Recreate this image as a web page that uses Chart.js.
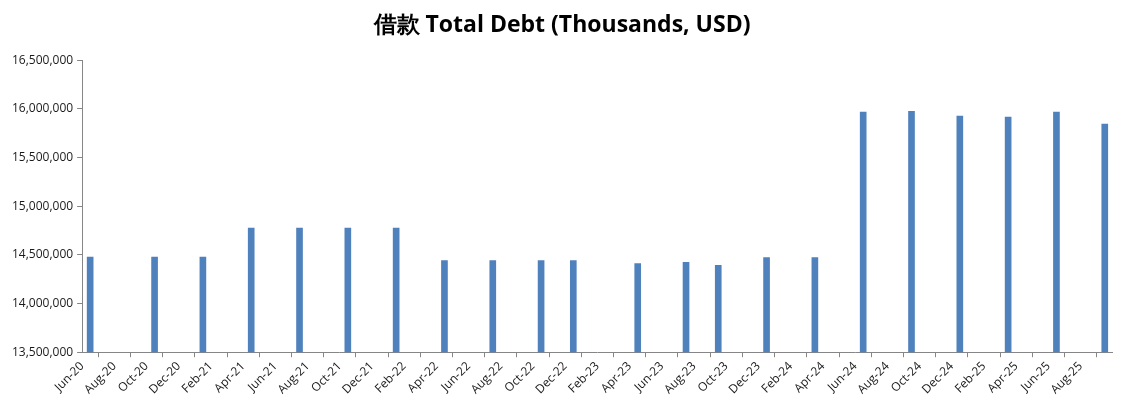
<!DOCTYPE html>
<html lang="zh">
<head>
  <meta charset="UTF-8">
  <title>借款 Total Debt</title>
  <script src="https://cdn.jsdelivr.net/npm/chart.js"></script>
  <style>
    html, body { margin: 0; padding: 0; background: #fff; }
    #wrap { width: 1125px; height: 405px; }
  </style>
</head>
<body>
  <div id="wrap">
    <canvas id="debtChart"></canvas>
  </div>

  <script>
    // monthly slots, Jun-20 .. Sep-25 (labels shown every 2nd month)
    const months = [
      'Jun-20','Jul-20','Aug-20','Sep-20','Oct-20','Nov-20','Dec-20',
      'Jan-21','Feb-21','Mar-21','Apr-21','May-21','Jun-21','Jul-21','Aug-21','Sep-21','Oct-21','Nov-21','Dec-21',
      'Jan-22','Feb-22','Mar-22','Apr-22','May-22','Jun-22','Jul-22','Aug-22','Sep-22','Oct-22','Nov-22','Dec-22',
      'Jan-23','Feb-23','Mar-23','Apr-23','May-23','Jun-23','Jul-23','Aug-23','Sep-23','Oct-23','Nov-23','Dec-23',
      'Jan-24','Feb-24','Mar-24','Apr-24','May-24','Jun-24','Jul-24','Aug-24','Sep-24','Oct-24','Nov-24','Dec-24',
      'Jan-25','Feb-25','Mar-25','Apr-25','May-25','Jun-25','Jul-25','Aug-25','Sep-25'
    ];

    // reporting months that have a value
    const reportMonths = [
      'Jun-20','Oct-20','Jan-21','Apr-21','Jul-21','Oct-21','Jan-22','Apr-22','Jul-22','Oct-22','Dec-22',
      'Apr-23','Jul-23','Sep-23','Dec-23','Mar-24','Jun-24','Sep-24','Dec-24','Mar-25','Jun-25','Sep-25'
    ];
    const totalDebt = [
      14476000, 14476000, 14476000, 14775000, 14775000, 14775000, 14775000, 14442000, 14442000, 14442000, 14442000,
      14411000, 14422000, 14391000, 14473000, 14473000, 15965000, 15975000, 15924000, 15914000, 15965000, 15842000
    ];

    const yMin = 13500000;
    const yMax = 16500000;
    const yStep = 500000;

    // bars sit in the middle of their month slot
    const points = reportMonths.map((m, i) => ({ x: months.indexOf(m) + 0.5, y: totalDebt[i] }));

    const ctx = document.getElementById('debtChart').getContext('2d');
    const axisColor = '#868686';
    const tickFont = { family: 'Open Sans', size: 12 };

    new Chart(ctx, {
      type: 'bar',
      data: {
        datasets: [{
          label: 'Total Debt',
          data: points,
          backgroundColor: '#4F81BD',
          borderWidth: 0,
          barThickness: 6
        }]
      },
      options: {
        responsive: true,
        maintainAspectRatio: false,
        animation: false,
        layout: { padding: { left: 8, right: 9, top: 0, bottom: 6 } },
        plugins: {
          legend: { display: false },
          tooltip: { enabled: false },
          title: {
            display: true,
            text: '借款 Total Debt (Thousands, USD)',
            color: '#000',
            font: { family: 'Open Sans', size: 23, weight: 'bold' },
            padding: { top: 12, bottom: 20.5 }
          }
        },
        scales: {
          x: {
            type: 'linear',
            min: 0,
            max: months.length,
            offset: false,
            grid: {
              display: true,
              drawOnChartArea: false,
              drawTicks: true,
              tickLength: 5,
              color: axisColor
            },
            border: { color: axisColor, width: 1 },
            ticks: {
              stepSize: 2,
              autoSkip: false,
              maxRotation: 45,
              minRotation: 45,
              color: '#1a1a1a',
              font: tickFont,
              padding: 2,
              callback: v => months[v] || ''
            }
          },
          y: {
            min: yMin,
            max: yMax,
            grid: {
              display: true,
              drawOnChartArea: false,
              drawTicks: true,
              tickLength: 5,
              color: axisColor
            },
            border: { color: axisColor, width: 1 },
            ticks: {
              stepSize: yStep,
              color: '#1a1a1a',
              font: tickFont,
              padding: 4,
              callback: v => v.toLocaleString('en-US')
            }
          }
        }
      }
    });
  </script>
</body>
</html>
